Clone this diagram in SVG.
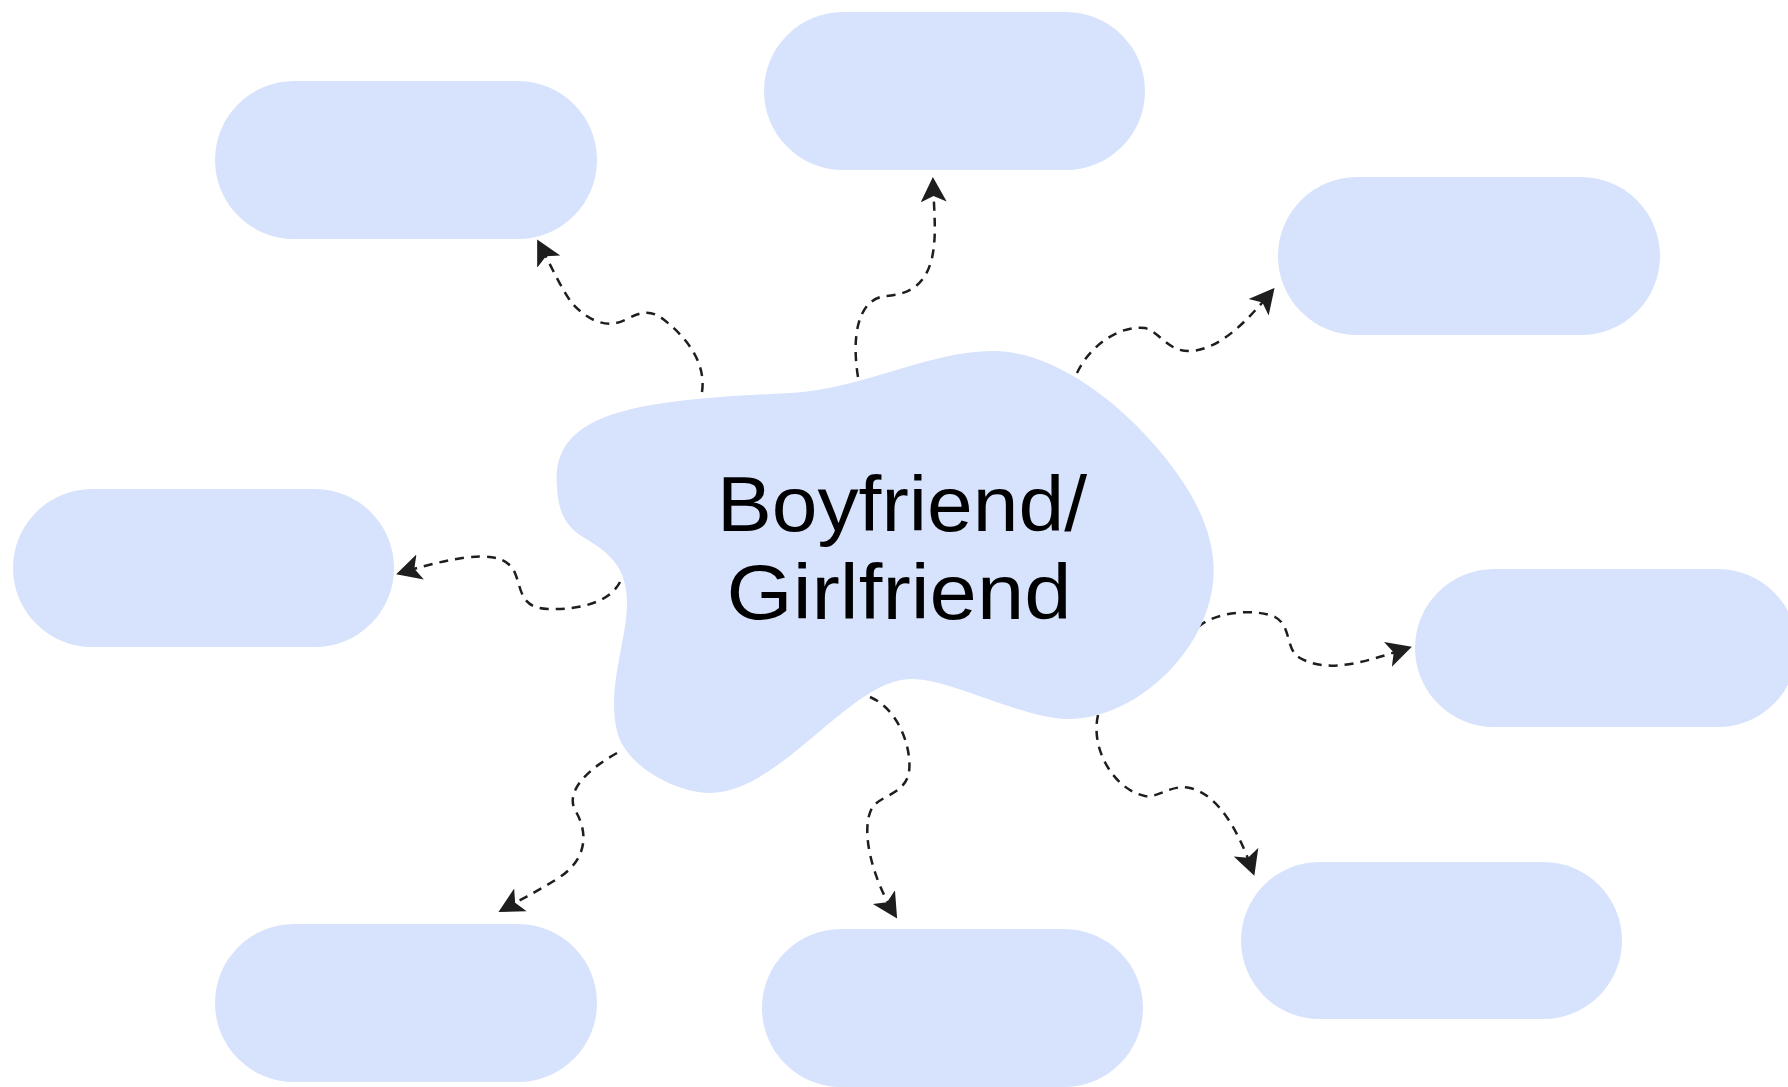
<svg xmlns="http://www.w3.org/2000/svg" width="1788" height="1087" viewBox="0 0 1788 1087">
  <style>
    .pill { fill: #d7e3fc; }
    .blob { fill: #d7e3fc; }
    .link { fill: none; stroke: #1e1e1e; stroke-width: 2.5; stroke-dasharray: 9 7; marker-end: url(#arrow); }
    .title { font-family: "Liberation Sans", Arial, sans-serif; font-size: 78px; fill: #000; }
  </style>
  <defs>
    <marker id="arrow" viewBox="0 0 25 28" refX="21" refY="14" markerWidth="25" markerHeight="28" markerUnits="userSpaceOnUse" orient="auto">
      <path d="M25,14 L0,1 L6,14 L0,27 Z" fill="#1e1e1e"/>
    </marker>
  </defs>
  <rect width="1788" height="1087" fill="#ffffff"/>

  <!-- dashed wavy connectors from the centre shape to each pill -->
  <g id="connectors">
    <path class="link" d="M702 392 C706 365 690 340 663 319 C650 309 640 312 625 320 C605 330 585 318 572 303 C562 290 551 266 539 243"/>
    <path class="link" d="M858 377 C852 340 856 300 885 296 C905 295 925 288 932 258 C937 235 934 212 933 181"/>
    <path class="link" d="M1077 373 C1090 345 1120 325 1145 328 C1160 332 1168 352 1190 351 C1220 350 1248 320 1272 291"/>
    <path class="link" d="M620 582 C610 602 580 610 548 609 C520 608 522 590 515 573 C505 550 470 552 400 573"/>
    <path class="link" d="M1198 627 C1215 612 1255 608 1275 617 C1292 626 1285 650 1300 658 C1330 675 1370 660 1408 648"/>
    <path class="link" d="M1098 715 C1090 750 1115 790 1145 796 C1160 798 1170 784 1190 788 C1220 795 1240 835 1253 872"/>
    <path class="link" d="M870 697 C900 710 912 750 909 772 C905 795 880 795 872 808 C860 830 872 878 895 915"/>
    <path class="link" d="M617 753 C590 768 565 790 575 810 C590 835 585 860 560 877 C540 890 522 899 502 910"/>
  </g>

  <!-- centre shape -->
  <g id="center">
    <path class="blob" d="M557 487 C550 410 640 400 790 393 C860 390 930 350 995 351 C1050 352 1110 395 1150 440 C1200 495 1220 545 1212 590 C1200 660 1130 720 1067 719 C1020 718 950 678 910 679 C850 680 780 793 710 793 C680 793 630 770 618 735 C605 690 628 640 627 600 C626 560 600 548 580 535 C565 525 558 510 557 487 Z"/>
    <text class="title" x="902" y="531" text-anchor="middle" textLength="370" lengthAdjust="spacingAndGlyphs">Boyfriend/</text>
    <text class="title" x="899" y="619" text-anchor="middle" textLength="345" lengthAdjust="spacingAndGlyphs">Girlfriend</text>
  </g>

  <!-- surrounding pills -->
  <g id="pill-top-left"><rect class="pill" x="215" y="81" width="382" height="158" rx="79"/></g>
  <g id="pill-top"><rect class="pill" x="764" y="12" width="381" height="158" rx="79"/></g>
  <g id="pill-top-right"><rect class="pill" x="1278" y="177" width="382" height="158" rx="79"/></g>
  <g id="pill-left"><rect class="pill" x="13" y="489" width="381" height="158" rx="79"/></g>
  <g id="pill-right"><rect class="pill" x="1415" y="569" width="382" height="158" rx="79"/></g>
  <g id="pill-bottom-right"><rect class="pill" x="1241" y="862" width="381" height="157" rx="78.5"/></g>
  <g id="pill-bottom"><rect class="pill" x="762" y="929" width="381" height="158" rx="79"/></g>
  <g id="pill-bottom-left"><rect class="pill" x="215" y="924" width="382" height="158" rx="79"/></g>
</svg>
